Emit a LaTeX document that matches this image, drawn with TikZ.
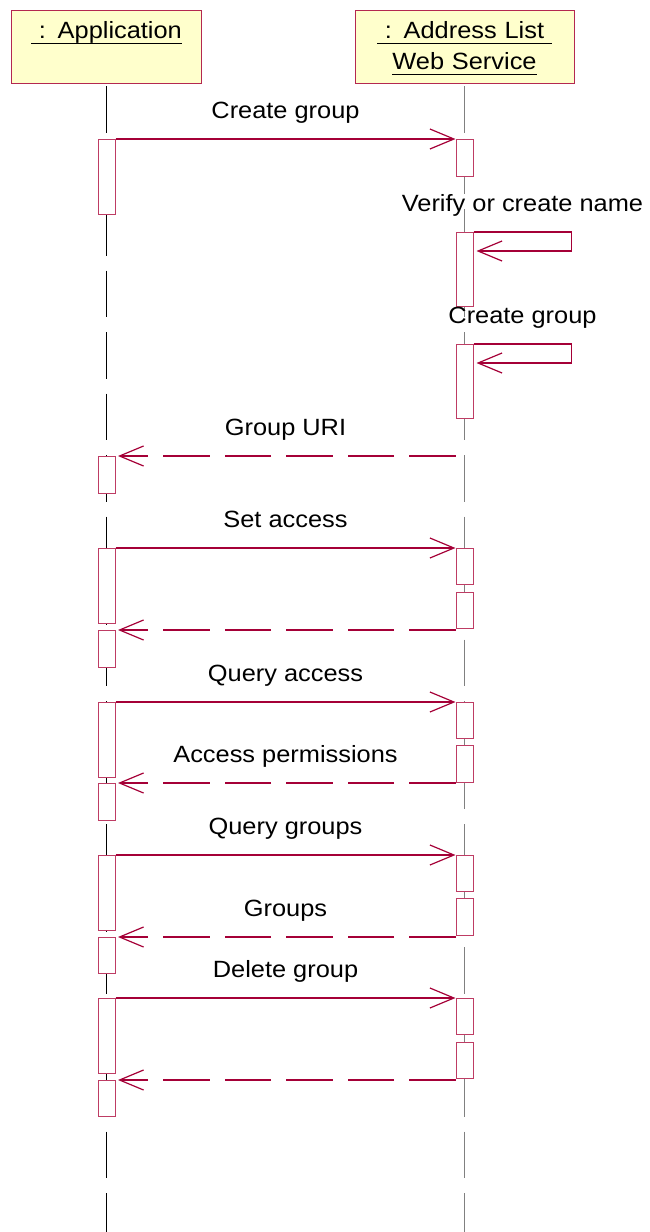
\documentclass[tikz,border=0pt]{standalone}
\usepackage{fontspec}
\newfontfamily\umlfont[FakeStretch=1.08]{Liberation Sans}
\usetikzlibrary{arrows.meta}
\definecolor{umlred}{RGB}{165,0,55}
\definecolor{actline}{RGB}{190,60,100}
\definecolor{hdrfill}{RGB}{255,255,204}
\definecolor{hdrline}{RGB}{180,40,80}
\definecolor{lifegray}{RGB}{128,128,128}
\newcommand\umlsize{\umlfont\fontsize{23.5pt}{31pt}\selectfont}
\newcommand\ulname[1]{\leavevmode\setbox0\hbox{#1}\rlap{\rule[-5.3pt]{\wd0}{1.6pt}}\box0}
\begin{document}
\begin{tikzpicture}
[x=1pt,y=-1pt,
  hdr/.style={draw=hdrline,fill=hdrfill,line width=1pt,anchor=north,align=center,
    inner xsep=0pt,inner ysep=0pt,text height=28.3pt,text depth=44.7pt,font=\umlsize},%
  lifeline/.style={line width=1pt,dash pattern=on 46.5pt off 15pt},%
  act/.style={draw=actline,fill=white,line width=1pt,anchor=north,inner sep=0pt,minimum width=17},%
  msg/.style={draw=umlred,line width=1.2pt,-{Straight Barb[length=24pt,width=20pt]}},%
  ret/.style={msg,dash pattern=on 46.5pt off 15pt,shorten >=2.5pt},%
  lbl/.style={anchor=base,yshift=21pt,inner sep=0pt,font=\umlsize}]
\useasboundingbox (0,0) rectangle (650,1232);
%% objects
\node[hdr,text width=190pt] (app) at (106.5,10) {\ulname{\ : Application}};
\node[hdr,text width=219pt] (svc) at (464.5,10) {\ulname{\ : Address List\ }\\\ulname{Web Service}};
%% lifelines
\coordinate (bottom) at (0,1232);
\draw[lifeline,draw=black] ([yshift=-2pt]app.south) -- (app.south |- bottom);
\draw[lifeline,draw=lifegray] ([yshift=-2pt]svc.south) -- (svc.south |- bottom);
%% activations
\foreach \nodename/\x/\ytop/\ylen in {a1/106.5/139/75, a2/106.5/456/37, a3/106.5/548/75,
  a4/106.5/630/37, a5/106.5/702/75, a6/106.5/783/37, a7/106.5/855/75, a8/106.5/937/36,
  a9/106.5/998/75, a10/106.5/1080/36,
  s1/464.5/139/37, s2/464.5/232/74, s3/464.5/344/74, s4/464.5/548/36, s5/464.5/592/36,
  s6/464.5/702/36, s7/464.5/745/37, s8/464.5/855/36, s9/464.5/898/37, s10/464.5/998/36,
  s11/464.5/1042/36}
{
  \node[act,minimum height=\ylen] (\nodename) at (\x,\ytop) {};
}
%% messages
\draw[msg] (a1.north east) -- node[lbl] {Create group} (s1.north west);
\draw[msg] (s2.north east) -- node[lbl] {Verify or create name} ++(98,0)
  |- ([xshift=3pt,yshift=-19pt]s2.north east);
\draw[msg] (s3.north east) -- node[lbl] {Create group} ++(98,0)
  |- ([xshift=3pt,yshift=-19pt]s3.north east);
\draw[ret] (a2.north east -| s3.west) -- node[lbl] {Group URI} (a2.north east);
\draw[msg] (a3.north east) -- node[lbl] {Set access} (s4.north west);
\draw[ret] (a4.north east -| s5.west) -- (a4.north east);
\draw[msg] (a5.north east) -- node[lbl] {Query access} (s6.north west);
\draw[ret] (a6.north east -| s7.west) -- node[lbl] {Access permissions} (a6.north east);
\draw[msg] (a7.north east) -- node[lbl] {Query groups} (s8.north west);
\draw[ret] (a8.north east -| s9.west) -- node[lbl] {Groups} (a8.north east);
\draw[msg] (a9.north east) -- node[lbl] {Delete group} (s10.north west);
\draw[ret] (a10.north east -| s11.west) -- (a10.north east);
\end{tikzpicture}
\end{document}
